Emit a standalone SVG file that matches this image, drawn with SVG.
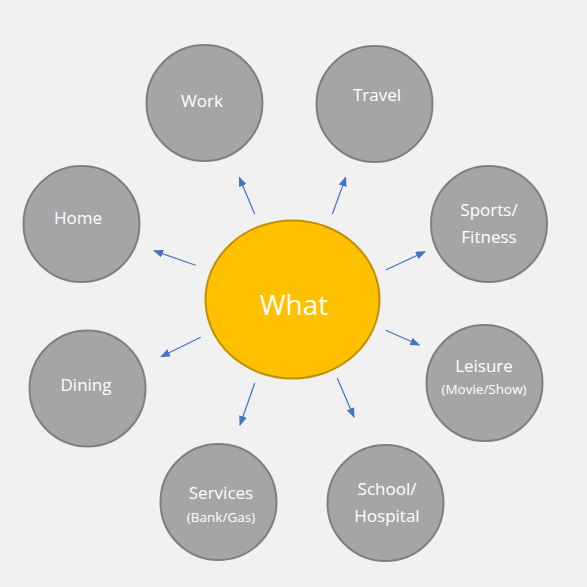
<svg xmlns="http://www.w3.org/2000/svg" width="587" height="587" viewBox="0 0 587 587">
<style>
.n{fill:#a5a5a5;stroke:#7f7f7f;stroke-width:2}
.t{font-family:"Open Sans","Liberation Sans",sans-serif;fill:#ffffff;text-anchor:middle;font-size:17px}
.s{font-size:13.5px}
.c line{stroke:#4472c4;stroke-width:1.2;marker-end:url(#ah)}
</style>
<defs>
<marker id="ah" markerWidth="10" markerHeight="8" refX="9" refY="4" orient="auto" markerUnits="userSpaceOnUse">
<path d="M0,0 L10,4 L0,8 Z" fill="#4472c4"/>
</marker>
</defs>
<rect width="587" height="587" fill="#f1f1f1"/>
<g class="c" id="connectors">
<line x1="254.7" y1="214.3" x2="239.3" y2="177.3"/>
<line x1="332.3" y1="214.3" x2="345.7" y2="177.3"/>
<line x1="195.7" y1="265.3" x2="154" y2="250.7"/>
<line x1="385.7" y1="270" x2="425" y2="251.7"/>
<line x1="200.7" y1="337.3" x2="161" y2="356.7"/>
<line x1="385.7" y1="330.3" x2="419.3" y2="345"/>
<line x1="254.7" y1="383.3" x2="240" y2="425"/>
<line x1="337.3" y1="378.3" x2="354" y2="417"/>
</g>
<g id="what">
<ellipse cx="292.5" cy="299.5" rx="87" ry="79" fill="#ffc000" stroke="#bf9000" stroke-width="2"/>
<text class="t" x="294" y="315" style="font-size:28px">What</text>
</g>
<g id="work"><circle class="n" cx="204.5" cy="103" r="58"/><text class="t" x="202" y="107">Work</text></g>
<g id="travel"><circle class="n" cx="374.5" cy="104" r="58"/><text class="t" x="377" y="101">Travel</text></g>
<g id="home"><circle class="n" cx="81.5" cy="224" r="58"/><text class="t" x="78" y="224">Home</text></g>
<g id="sports"><circle class="n" cx="489" cy="224" r="58"/><text class="t" x="489" y="216">Sports/</text><text class="t" x="489" y="243">Fitness</text></g>
<g id="dining"><circle class="n" cx="87.5" cy="388.5" r="58"/><text class="t" x="86" y="391">Dining</text></g>
<g id="leisure"><circle class="n" cx="484.5" cy="383" r="58"/><text class="t" x="484" y="372">Leisure</text><text class="t s" x="484" y="394">(Movie/Show)</text></g>
<g id="services"><circle class="n" cx="218.5" cy="502" r="58"/><text class="t" x="221" y="499">Services</text><text class="t s" x="221" y="522">(Bank/Gas)</text></g>
<g id="school"><circle class="n" cx="385.5" cy="503" r="58"/><text class="t" x="387" y="495">School/</text><text class="t" x="387" y="522">Hospital</text></g>
</svg>
